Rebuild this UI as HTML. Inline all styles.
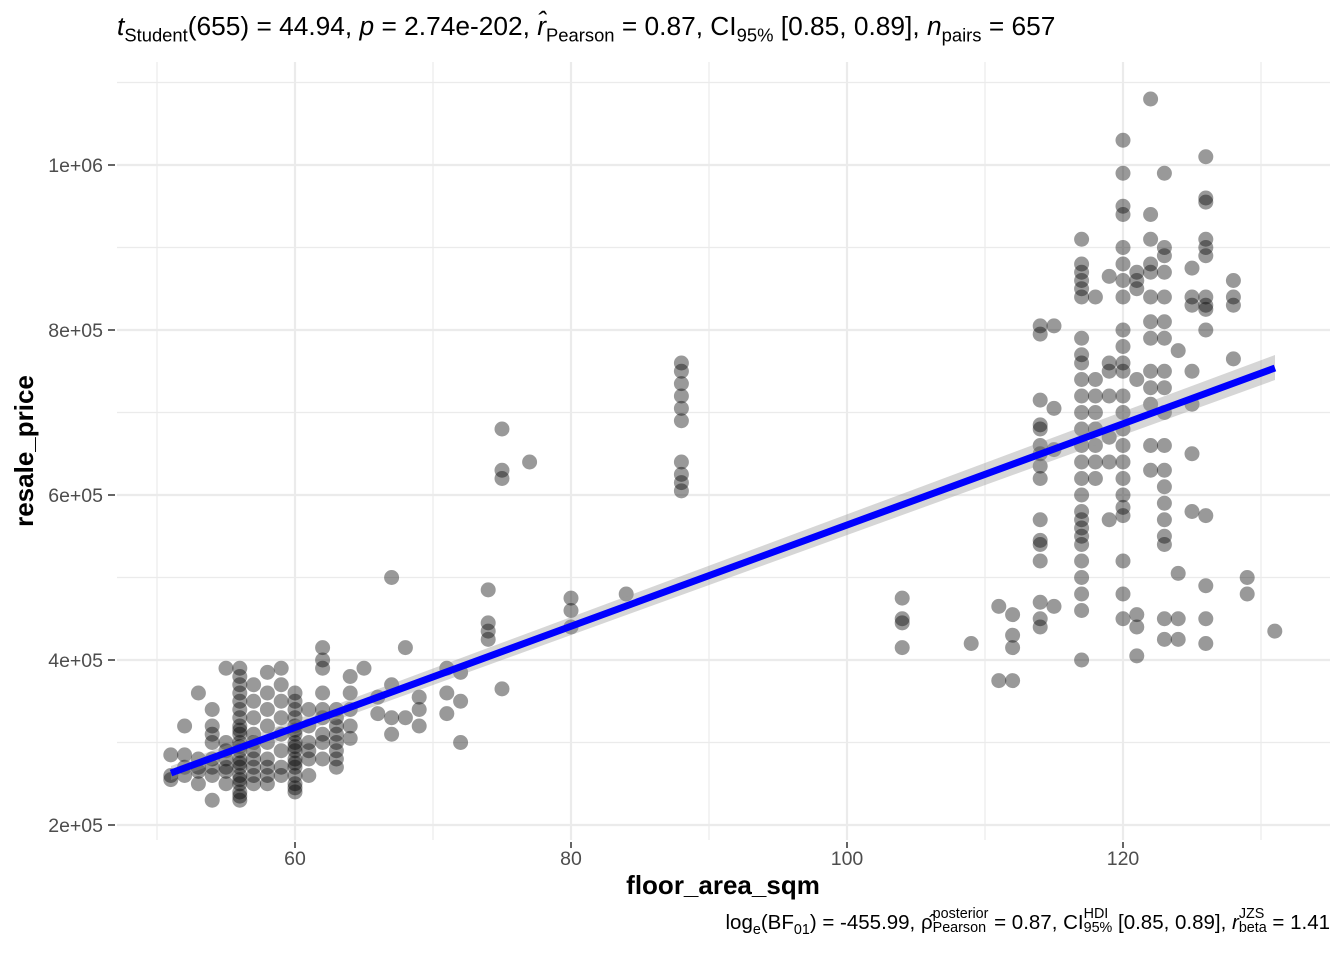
<!DOCTYPE html>
<html><head><meta charset="utf-8">
<style>
body{margin:0;width:1344px;height:960px;background:#fff;font-family:"Liberation Sans",Arial,sans-serif;position:relative;overflow:hidden}
.t{position:absolute;white-space:nowrap;color:#000}
sub,sup{font-size:70%;line-height:0}
.stk{display:inline-block;vertical-align:middle;line-height:1;font-size:70%;text-align:left;position:relative;top:-2px}
.stk span{display:block}
</style></head><body>
<svg id="s" width="1344" height="960" style="position:absolute;left:0;top:0">
<g id="grid" stroke="#ebebeb" fill="none"></g>
<g id="pts"></g>
<polygon points="171,766 1275,355 1275,380 171,780" fill="#999" opacity="0.4"/>
<line x1="171" y1="773" x2="1275" y2="368" stroke="#0000ff" stroke-width="7"/>
<g id="ticks" stroke="#333" stroke-width="1.5"></g>
<g font-family="Liberation Sans, Arial, sans-serif" font-size="19.5" fill="#4d4d4d">
<text x="103" y="172" text-anchor="end">1e+06</text>
<text x="103" y="337" text-anchor="end">8e+05</text>
<text x="103" y="502" text-anchor="end">6e+05</text>
<text x="103" y="667" text-anchor="end">4e+05</text>
<text x="103" y="832" text-anchor="end">2e+05</text>
<text x="295" y="865" text-anchor="middle">60</text>
<text x="571" y="865" text-anchor="middle">80</text>
<text x="847" y="865" text-anchor="middle">100</text>
<text x="1123" y="865" text-anchor="middle">120</text>
</g>
<text x="723" y="894" text-anchor="middle" font-family="Liberation Sans, Arial, sans-serif" font-size="26" font-weight="bold">floor_area_sqm</text>
<text transform="translate(33,451) rotate(-90)" text-anchor="middle" font-family="Liberation Sans, Arial, sans-serif" font-size="26" font-weight="bold">resale_price</text>
</svg>
<div class="t" style="left:117px;top:11px;font-size:26.3px"><i>t</i><sub>Student</sub>(655) = 44.94, <i>p</i> = 2.74e-202, <i>r̂</i><sub>Pearson</sub> = 0.87, CI<sub>95%</sub> [0.85, 0.89], <i>n</i><sub>pairs</sub> = 657</div>
<div class="t" style="right:14px;top:909px;font-size:20.5px">log<sub>e</sub>(BF<sub>01</sub>) = -455.99, ρ̂<span class="stk"><span>posterior</span><span>Pearson</span></span> = 0.87, CI<span class="stk"><span>HDI</span><span>95%</span></span> [0.85, 0.89], <i>r</i><span class="stk"><span>JZS</span><span>beta</span></span> = 1.41</div>
<script>
var NS="http://www.w3.org/2000/svg";
function X(x){return 295+(x-60)*13.8}
function Y(y){return 825-(y-20)*8.25}
function el(p,t,a){var e=document.createElementNS(NS,t);for(var k in a)e.setAttribute(k,a[k]);p.appendChild(e);return e}
var g=document.getElementById('grid');
[50,70,90,110,130].forEach(function(v){el(g,'line',{x1:X(v),x2:X(v),y1:62,y2:840,'stroke-width':1.2})});
[30,50,70,90,110].forEach(function(v){el(g,'line',{y1:Y(v),y2:Y(v),x1:117,x2:1330,'stroke-width':1.2})});
[60,80,100,120].forEach(function(v){el(g,'line',{x1:X(v),x2:X(v),y1:62,y2:840,'stroke-width':2.2})});
[20,40,60,80,100].forEach(function(v){el(g,'line',{y1:Y(v),y2:Y(v),x1:117,x2:1330,'stroke-width':2.2})});
var tk=document.getElementById('ticks');
[20,40,60,80,100].forEach(function(v){el(tk,'line',{x1:108,x2:115,y1:Y(v),y2:Y(v)})});
[60,80,100,120].forEach(function(v){el(tk,'line',{y1:842,y2:848,x1:X(v),x2:X(v)})});
var D={51:[28.5,26,25.5],52:[32,28.5,26,27],53:[36,28,25,26.5,27],54:[34,32,31,30,28,27,26,23],55:[39,30,29,28,27,26.5,25],
56:[23,24,25,26,27,28,29,30,31,32,33,34,35,36,37,38,39,23.5,25.5,27.5,29.5,31.5],57:[25,26,27,28,29,30,31,33,35,37],58:[38.5,36,34,32,30,28,27,26,25],
59:[39,37,35,33,31,29,27,26],60:[24,25,26,27,28,29,30,31,32,33,34,35,36,24.5,27.5,29.5,31.5],61:[30,32,34,26,28,29],62:[41.5,40,39,36,34,33,31,30,28],
63:[27,28,29,30,31,32,33,34],64:[38,36,34,32,30.5],65:[39],66:[33.5,35.5],67:[50,37,33,31],68:[41.5,33],69:[32,34,35.5],71:[39,36,33.5],
72:[38.5,35,30],74:[48.5,44.5,43.5,42.5],75:[68,63,62,36.5],77:[64],80:[47.5,46,44],84:[48],88:[76,75,73.5,72,70.5,69,64,62.5,61.5,60.5],
104:[47.5,45,44.5,41.5],109:[42],111:[46.5,37.5],112:[45.5,43,41.5,37.5],114:[80.5,79.5,71.5,68.5,68,66,65,63.5,62,57,54.5,54,52,47,45,44],
115:[80.5,70.5,65.5,46.5],117:[91,88,87,86,85,84,79,77,76,74,72,70,68,66,64,62,60,58,57,56,55,54,52,50,48,46,40],118:[84,74,72,70,68,66,64,62],
119:[86.5,76,75,72,67,64,57],120:[103,99,95,94,90,88,86,84,80,78,76,75,72,70,68,66,64,62,60,58.5,57.5,52,48,45],121:[87,86,85,74,45.5,44,40.5],
122:[108,94,91,88,87,84,81,79,75,73,71,66,63],123:[99,90,89,87,84,81,79,75,73,70,66,63,61,59,57,55,54,45,42.5],124:[77.5,50.5,45,42.5],
125:[87.5,84,83,75,71,65,58],126:[101,96,95.5,91,90,89,84,83,82.5,80,57.5,49,45,42],128:[86,84,83,76.5],129:[50,48],131:[43.5]};
var p=document.getElementById('pts');
for(var k in D){D[k].forEach(function(v){el(p,'circle',{cx:X(+k),cy:Y(v),r:7.5,fill:'#000','fill-opacity':0.4})})}
</script>
</body></html>
